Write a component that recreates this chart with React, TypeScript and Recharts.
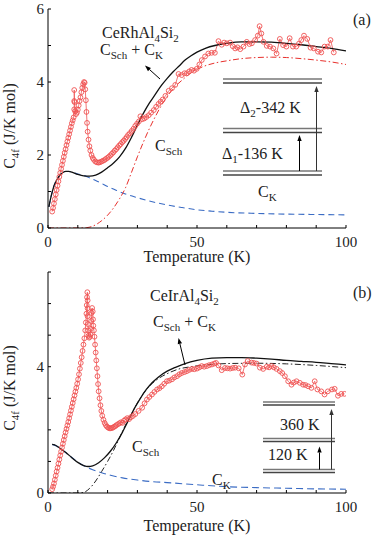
import { Line, LineChart, XAxis, YAxis } from "recharts";

// measured C4f points [T (K), C (J/K mol)]
const rhMeasured: [number, number][] = [
  [1.4, 0.45], [1.7, 0.55], [2.0, 0.67], [2.3, 0.79], [2.6, 0.92], [2.9, 1.04], [3.2, 1.16], [3.5, 1.28],
  [3.8, 1.4], [4.1, 1.51], [4.4, 1.62], [4.7, 1.73], [5.0, 1.84], [5.3, 1.95], [5.6, 2.06], [5.9, 2.16],
  [6.2, 2.27], [6.5, 2.37], [6.8, 2.47], [7.1, 2.57], [7.4, 2.67], [7.7, 2.77], [8.0, 2.87], [8.3, 2.95],
  [8.6, 3.03], [8.8, 3.25], [8.8, 3.48], [8.8, 3.78], [8.9, 3.45], [9.1, 3.2], [9.4, 3.12], [9.7, 3.16],
  [10.0, 3.24], [10.3, 3.36], [10.6, 3.48], [10.9, 3.58], [11.2, 3.72], [11.5, 3.84], [11.8, 3.94], [12.1, 4.0],
  [12.3, 3.98], [12.5, 3.8], [12.7, 3.5], [12.9, 3.18], [13.1, 2.88], [13.3, 2.64], [13.6, 2.42], [13.9, 2.24],
  [14.2, 2.12], [14.6, 2.0], [15.0, 1.92], [15.4, 1.87], [15.9, 1.82], [16.4, 1.8], [16.9, 1.79], [17.4, 1.8],
  [17.9, 1.82], [18.4, 1.84], [18.9, 1.86], [19.4, 1.89], [19.9, 1.92], [20.4, 1.95], [20.9, 1.99], [21.4, 2.03],
  [21.9, 2.07], [22.4, 2.12], [22.9, 2.16], [23.4, 2.21], [23.9, 2.26], [24.4, 2.3], [24.9, 2.35], [25.4, 2.39],
  [25.9, 2.44], [26.4, 2.49], [26.9, 2.55], [27.5, 2.6], [28.1, 2.66], [28.7, 2.72], [29.3, 2.8], [29.9, 2.86],
  [30.5, 2.92], [31.0, 3.06], [31.6, 2.98], [32.3, 3.0], [33.0, 3.04], [33.8, 3.09], [34.6, 3.16], [35.5, 3.23],
  [36.3, 3.32], [37.1, 3.4], [37.8, 3.46], [38.5, 3.52], [39.4, 3.62], [40.5, 3.76], [41.6, 3.83], [42.7, 3.92],
  [43.8, 4.22], [44.9, 4.19], [45.8, 4.24], [46.6, 4.24], [47.4, 4.29], [48.2, 4.33], [49.0, 4.31], [49.9, 4.36],
  [50.8, 4.48], [51.6, 4.6], [52.7, 4.7], [53.8, 4.78], [54.9, 4.8], [56.0, 4.8], [57.2, 5.12], [58.3, 5.02],
  [59.1, 5.08], [60.0, 5.06], [61.1, 5.08], [62.0, 4.98], [62.8, 4.92], [63.6, 4.95], [64.5, 4.9], [65.6, 4.97],
  [66.7, 5.1], [67.6, 5.04], [68.4, 5.06], [69.5, 5.15], [70.4, 5.27], [71.0, 5.53], [71.6, 5.33], [72.3, 5.1],
  [73.4, 4.99], [74.5, 4.97], [75.6, 4.92], [76.7, 4.78], [77.8, 5.18], [78.9, 5.01], [80.0, 4.97], [81.1, 5.2],
  [82.2, 4.97], [83.3, 4.97], [84.2, 5.05], [85.0, 5.15], [85.9, 5.27], [87.0, 5.18], [88.1, 4.94], [89.2, 4.92],
  [90.6, 4.83], [91.7, 4.81], [92.8, 4.97], [93.9, 4.97], [94.8, 5.15], [95.9, 4.81],
];

const rhTotal: [number, number][] = [
  [0.3, 0.58], [1, 0.85], [2, 1.15], [3, 1.33], [4, 1.45], [5, 1.52], [6, 1.55], [7, 1.55], [8, 1.53],
  [10, 1.47], [12, 1.43], [14, 1.42], [16, 1.45], [18, 1.53], [20, 1.65], [22, 1.78], [24, 1.95], [26, 2.18],
  [28, 2.48], [30, 2.82], [32, 3.14], [34, 3.42], [36, 3.66], [38, 3.9], [40, 4.1], [42, 4.28], [44, 4.44],
  [46, 4.6], [48, 4.72], [50, 4.82], [53, 4.93], [56, 5.0], [60, 5.06], [65, 5.1], [70, 5.1], [75, 5.09],
  [80, 5.06], [85, 5.02], [90, 4.97], [95, 4.92], [100, 4.85],
];

const rhSch: [number, number][] = [
  [0, 0], [5, 0], [10, 0], [13, 0.01], [15, 0.05], [18, 0.2], [20, 0.35], [22, 0.55], [24, 0.8], [26, 1.1],
  [28, 1.52], [30, 1.95], [32, 2.35], [34, 2.72], [36, 3.05], [38, 3.35], [40, 3.6], [42, 3.82], [45, 4.05],
  [48, 4.25], [52, 4.42], [56, 4.52], [60, 4.58], [65, 4.64], [70, 4.67], [75, 4.68], [80, 4.67], [85, 4.64],
  [90, 4.6], [95, 4.55], [100, 4.48],
];

const rhKondo: [number, number][] = [
  [0.3, 0.58], [1, 0.85], [2, 1.15], [3, 1.33], [4, 1.45], [5, 1.52], [6, 1.55], [7, 1.55], [8, 1.53],
  [10, 1.48], [12, 1.44], [14, 1.37], [16, 1.3], [18, 1.22], [20, 1.14], [23, 1.03], [26, 0.93], [30, 0.83],
  [35, 0.72], [40, 0.63], [45, 0.56], [50, 0.5], [55, 0.46], [60, 0.43], [70, 0.4], [80, 0.38], [90, 0.37],
  [100, 0.36],
];

const irMeasured: [number, number][] = [
  [1.4, 0.12], [1.7, 0.2], [2.0, 0.3], [2.3, 0.42], [2.6, 0.55], [2.9, 0.68], [3.2, 0.8], [3.5, 0.93],
  [3.8, 1.06], [4.1, 1.19], [4.4, 1.31], [4.7, 1.44], [5.0, 1.56], [5.3, 1.68], [5.6, 1.8], [5.9, 1.92],
  [6.2, 2.03], [6.5, 2.14], [6.8, 2.25], [7.1, 2.37], [7.4, 2.49], [7.7, 2.61], [8.0, 2.73], [8.3, 2.85],
  [8.6, 2.97], [8.9, 3.09], [9.2, 3.21], [9.5, 3.33], [9.8, 3.46], [10.1, 3.6], [10.4, 3.76], [10.7, 3.94],
  [11.0, 4.12], [11.3, 4.3], [11.6, 4.5], [11.9, 4.7], [12.2, 4.9], [12.5, 5.15], [12.7, 5.4], [12.9, 5.68],
  [13.0, 5.95], [13.1, 6.2], [13.2, 6.36], [13.3, 6.1], [13.3, 5.85], [13.3, 5.6], [13.4, 5.35], [13.5, 5.15],
  [13.6, 4.98], [13.8, 4.92], [14.0, 4.95], [14.2, 5.02], [14.4, 5.2], [14.5, 5.45], [14.6, 5.7], [14.8, 5.86],
  [15.0, 5.75], [15.1, 5.5], [15.2, 5.3], [15.4, 5.15], [15.6, 4.95], [15.8, 4.7], [16.0, 4.45], [16.2, 4.2],
  [16.4, 3.95], [16.6, 3.7], [16.8, 3.45], [17.0, 3.22], [17.3, 3.0], [17.6, 2.78], [17.9, 2.6], [18.2, 2.45],
  [18.6, 2.32], [19.0, 2.22], [19.4, 2.15], [19.8, 2.1], [20.2, 2.07], [20.6, 2.05], [21.0, 2.05], [21.4, 2.06],
  [21.8, 2.07], [22.2, 2.1], [22.6, 2.12], [23.0, 2.15], [23.5, 2.18], [24.0, 2.21], [24.5, 2.24], [25.0, 2.22],
  [25.5, 2.29], [26.0, 2.33], [26.6, 2.37], [27.2, 2.34], [27.8, 2.4], [28.5, 2.44], [29.3, 2.5], [30.4, 2.6],
  [31.6, 2.7], [32.4, 2.84], [33.2, 2.96], [34.0, 3.04], [34.9, 3.12], [35.7, 3.2], [36.6, 3.28], [37.4, 3.32],
  [38.2, 3.38], [39.0, 3.46], [39.9, 3.54], [40.7, 3.56], [41.6, 3.6], [42.4, 3.66], [43.3, 3.7], [44.1, 3.76],
  [44.9, 3.8], [45.8, 3.83], [46.6, 3.86], [47.4, 3.9], [48.3, 3.93], [49.1, 3.92], [50.0, 3.94], [50.8, 3.98],
  [51.6, 4.02], [52.4, 4.0], [53.3, 4.02], [54.1, 4.05], [55.0, 4.07], [55.8, 4.1], [56.4, 4.12], [57.2, 4.04],
  [58.3, 3.89], [59.4, 3.96], [60.2, 3.95], [61.1, 3.94], [62.0, 3.96], [62.8, 3.97], [64.0, 3.95], [65.2, 3.75],
  [66.1, 4.07], [67.0, 4.18], [68.3, 4.13], [69.1, 4.12], [70.0, 4.1], [71.1, 3.97], [72.2, 3.93], [73.4, 4.0],
  [74.2, 3.98], [75.0, 4.02], [75.8, 3.98], [76.7, 3.93], [77.8, 3.86], [78.6, 3.8], [79.5, 3.7], [80.6, 3.54],
  [81.7, 3.43], [82.5, 3.5], [83.4, 3.54], [84.5, 3.49], [85.6, 3.43], [86.4, 3.42], [87.3, 3.38], [88.4, 3.33],
  [89.5, 3.54], [90.4, 3.28], [91.7, 3.22], [92.8, 3.12], [93.9, 3.22], [95.3, 3.28], [96.2, 3.3], [97.3, 3.08],
  [98.4, 3.14], [99.5, 3.14],
];

const irTotal: [number, number][] = [
  [1.4, 1.54], [2, 1.53], [4, 1.42], [6, 1.28], [8, 1.12], [10, 0.97], [12, 0.87], [13.5, 0.84], [15, 0.86],
  [17, 0.96], [19, 1.12], [21, 1.33], [23, 1.6], [25, 1.93], [27, 2.3], [29, 2.68], [31, 3.0], [33, 3.28],
  [35, 3.5], [37, 3.67], [40, 3.86], [43, 3.99], [46, 4.1], [50, 4.2], [55, 4.27], [60, 4.29], [65, 4.29],
  [70, 4.27], [75, 4.24], [80, 4.2], [85, 4.17], [90, 4.14], [95, 4.1], [100, 4.06],
];

const irSch: [number, number][] = [
  [0, 0], [5, 0], [10, 0], [12, 0.02], [14, 0.15], [16, 0.38], [18, 0.68], [20, 1.0], [22, 1.35], [24, 1.75],
  [26, 2.15], [28, 2.5], [30, 2.85], [32, 3.15], [34, 3.38], [37, 3.62], [40, 3.78], [44, 3.93], [48, 4.0],
  [52, 4.05], [56, 4.08], [60, 4.1], [70, 4.11], [80, 4.09], [90, 4.04], [100, 3.97],
];

const irKondo: [number, number][] = [
  [1.4, 1.54], [3, 1.48], [5, 1.35], [7, 1.2], [9, 1.05], [11, 0.92], [13, 0.82], [15, 0.74], [18, 0.64],
  [21, 0.56], [25, 0.48], [30, 0.41], [35, 0.36], [40, 0.33], [50, 0.26], [60, 0.2], [70, 0.17], [80, 0.15],
  [90, 0.13], [100, 0.12],
];

const xTicks = [0, 10, 20, 30, 40, 50, 60, 70, 80, 90, 100];
const xLabels = [0, 50, 100];
const rhYTicks = [0, 1, 2, 3, 4, 5, 6];
const rhYLabels = [0, 2, 4, 6];
const irYTicks = [0, 1, 2, 3, 4, 5, 6, 7];
const irYLabels = [0, 4];

const toRows = (pts: [number, number][]) => pts.map(([t, c]) => ({ t, c }));

const SERIF = '"Liberation Serif", "Times New Roman", Times, Tinos, "DejaVu Serif", serif';
const RED = "#ef5252";
const BLUE = "#3b6cc4";

// text with subscripts: plain strings stay on the baseline, [string] is a subscript
type Part = string | [string];

function Rich({ parts, ...rest }: { parts: Part[]; [k: string]: any }) {
  let lowered = false;
  return (
    <text {...rest} style={{ fontFamily: SERIF, fontSize: 16, fill: "#222" }}>
      {parts.map((p, i) => {
        if (Array.isArray(p)) {
          const dy = lowered ? 0 : 4;
          lowered = true;
          return (
            <tspan key={i} dy={dy} fontSize={11}>
              {p[0]}
            </tspan>
          );
        }
        const dy = lowered ? -4 : 0;
        lowered = false;
        return (
          <tspan key={i} dy={dy}>
            {p}
          </tspan>
        );
      })}
    </text>
  );
}

function Arrow({ x1, y1, x2, y2, color = "#000" }: { x1: number; y1: number; x2: number; y2: number; color?: string }) {
  const ang = Math.atan2(y2 - y1, x2 - x1);
  const len = 6;
  const w = 2.2;
  const bx = x2 - len * Math.cos(ang);
  const by = y2 - len * Math.sin(ang);
  const px = -Math.sin(ang) * w;
  const py = Math.cos(ang) * w;
  return (
    <g>
      <line x1={x1} y1={y1} x2={bx} y2={by} stroke={color} strokeWidth={1} />
      <polygon points={`${x2},${y2} ${bx + px},${by + py} ${bx - px},${by - py}`} fill={color} />
    </g>
  );
}

function Level({ x1, x2, y, gap }: { x1: number; x2: number; y: number; gap: number }) {
  return (
    <g>
      <line x1={x1} x2={x2} y1={y} y2={y} stroke="#777" strokeWidth={1.4} />
      <line x1={x1} x2={x2} y1={y + gap} y2={y + gap} stroke="#444" strokeWidth={1.4} />
    </g>
  );
}

// tick label that only draws the labelled values
function makeTick(labels: number[], anchor: "middle" | "end") {
  return (props: any) => {
    const { x, y, payload } = props;
    if (!labels.includes(payload.value)) return <g />;
    return (
      <text
        x={x}
        y={y}
        textAnchor={anchor}
        dy={anchor === "middle" ? "0.71em" : "0.34em"}
        style={{ fontFamily: SERIF, fontSize: 15, fill: "#222" }}
      >
        {payload.value}
      </text>
    );
  };
}

type PanelProps = {
  height: number;
  margin: { top: number; right: number; bottom: number; left: number };
  yMax: number;
  yTicks: number[];
  yLabels: number[];
  measured: [number, number][];
  total: [number, number][];
  sch: [number, number][];
  kondo: [number, number][];
  schColor: string;
  kondoDash: string;
};

function Panel(p: PanelProps) {
  return (
    <LineChart width={374} height={p.height} margin={p.margin}>
      <XAxis
        xAxisId="b"
        dataKey="t"
        type="number"
        domain={[0, 100]}
        ticks={xTicks}
        interval={0}
        tick={makeTick(xLabels, "middle")}
        tickSize={-3}
        tickMargin={11}
        height={26}
        stroke="#000"
        allowDataOverflow
      />
      <XAxis
        xAxisId="t"
        orientation="top"
        dataKey="t"
        type="number"
        domain={[0, 100]}
        ticks={xTicks}
        interval={0}
        tick={false}
        tickSize={-3}
        height={0}
        stroke="#000"
      />
      <YAxis
        yAxisId="l"
        type="number"
        domain={[0, p.yMax]}
        ticks={p.yTicks}
        interval={0}
        tick={makeTick(p.yLabels, "end")}
        tickSize={-3}
        tickMargin={7}
        width={40}
        stroke="#000"
        allowDataOverflow
      />
      <YAxis
        yAxisId="r"
        orientation="right"
        type="number"
        domain={[0, p.yMax]}
        ticks={p.yTicks}
        interval={0}
        tick={false}
        tickSize={-3}
        width={0}
        stroke="#000"
      />
      <Line
        xAxisId="b"
        yAxisId="l"
        data={toRows(p.kondo)}
        dataKey="c"
        type="monotone"
        stroke={BLUE}
        strokeWidth={1.1}
        strokeDasharray={p.kondoDash}
        dot={false}
        isAnimationActive={false}
      />
      <Line
        xAxisId="b"
        yAxisId="l"
        data={toRows(p.sch)}
        dataKey="c"
        type="monotone"
        stroke={p.schColor}
        strokeWidth={1}
        strokeDasharray="6 2.5 1.5 2.5"
        dot={false}
        isAnimationActive={false}
      />
      <Line
        xAxisId="b"
        yAxisId="l"
        data={toRows(p.measured)}
        dataKey="c"
        type="linear"
        stroke={RED}
        strokeWidth={0.8}
        dot={{ r: 2.4, stroke: RED, strokeWidth: 0.9, fill: "none" }}
        isAnimationActive={false}
      />
      <Line
        xAxisId="b"
        yAxisId="l"
        data={toRows(p.total)}
        dataKey="c"
        type="monotone"
        stroke="#111"
        strokeWidth={1.3}
        dot={false}
        isAnimationActive={false}
      />
    </LineChart>
  );
}

const yLabelParts: Part[] = ["C", ["4f"], " (J/K mol)"];
const totalParts: Part[] = ["C", ["Sch"], " + C", ["K"]];
const overlay = { position: "absolute" as const, left: 0, top: 0, pointerEvents: "none" as const };

export default function App() {
  return (
    <div
      style={{
        position: "absolute",
        left: 0,
        top: 0,
        width: 374,
        height: 537,
        background: "#fff",
        fontFamily: SERIF,
      }}
    >
      {/* (a) CeRhAl4Si2 */}
      <div style={{ position: "absolute", left: 0, top: 0, width: 374, height: 266 }}>
        <Panel
          height={266}
          margin={{ top: 9, right: 28, bottom: 12, left: 8 }}
          yMax={6}
          yTicks={rhYTicks}
          yLabels={rhYLabels}
          measured={rhMeasured}
          total={rhTotal}
          sch={rhSch}
          kondo={rhKondo}
          schColor="#e8302c"
          kondoDash="6 4"
        />
        <svg width={374} height={266} style={overlay}>
          <Rich parts={yLabelParts} transform="translate(15,126) rotate(-90)" textAnchor="middle" />
          <Rich parts={["Temperature (K)"]} x={197} y={262} textAnchor="middle" />
          <Rich parts={["(a)"]} x={353} y={25} />
          <Rich parts={["CeRhAl", ["4"], "Si", ["2"]]} x={102} y={38} />
          <Rich parts={totalParts} x={100} y={55} />
          <Arrow x1={160} y1={79} x2={145} y2={65.5} />
          <Rich parts={["C", ["Sch"]]} x={155} y={151} />
          <Rich parts={["C", ["K"]]} x={258} y={197} />
          <Level x1={223} x2={322} y={79} gap={4} />
          <Level x1={223} x2={322} y={128.5} gap={4} />
          <Level x1={223} x2={322} y={171} gap={4} />
          <Arrow x1={299.5} y1={171} x2={299.5} y2={135} />
          <Arrow x1={316.5} y1={171} x2={316.5} y2={86} color="#333" />
          <Rich parts={["Δ", ["2"], "-342 K"]} x={240} y={113} />
          <Rich parts={["Δ", ["1"], "-136 K"]} x={222} y={159} />
        </svg>
      </div>
      {/* (b) CeIrAl4Si2 */}
      <div style={{ position: "absolute", left: 0, top: 266, width: 374, height: 271 }}>
        <Panel
          height={271}
          margin={{ top: 6, right: 28, bottom: 18, left: 8 }}
          yMax={7}
          yTicks={irYTicks}
          yLabels={irYLabels}
          measured={irMeasured}
          total={irTotal}
          sch={irSch}
          kondo={irKondo}
          schColor="#222"
          kondoDash="7 4"
        />
        <svg width={374} height={271} style={overlay}>
          <Rich parts={yLabelParts} transform="translate(15,122) rotate(-90)" textAnchor="middle" />
          <Rich parts={["Temperature (K)"]} x={197} y={265} textAnchor="middle" />
          <Rich parts={["(b)"]} x={353} y={32} />
          <Rich parts={["CeIrAl", ["4"], "Si", ["2"]]} x={150} y={34.5} />
          <Rich parts={totalParts} x={153} y={60.5} />
          <Arrow x1={185} y1={99} x2={178.5} y2={72} />
          <Rich parts={["C", ["Sch"]]} x={132} y={186} />
          <Rich parts={["C", ["K"]]} x={212} y={219} />
          <Level x1={263} x2={335} y={136} gap={3} />
          <Level x1={263} x2={335} y={172.5} gap={3} />
          <Level x1={263} x2={335} y={203.5} gap={3} />
          <Arrow x1={319.5} y1={203.5} x2={319.5} y2={180.5} />
          <Arrow x1={331.5} y1={203.5} x2={331.5} y2={143} color="#333" />
          <Rich parts={["360 K"]} x={280} y={164} />
          <Rich parts={["120 K"]} x={268} y={194} />
        </svg>
      </div>
    </div>
  );
}
